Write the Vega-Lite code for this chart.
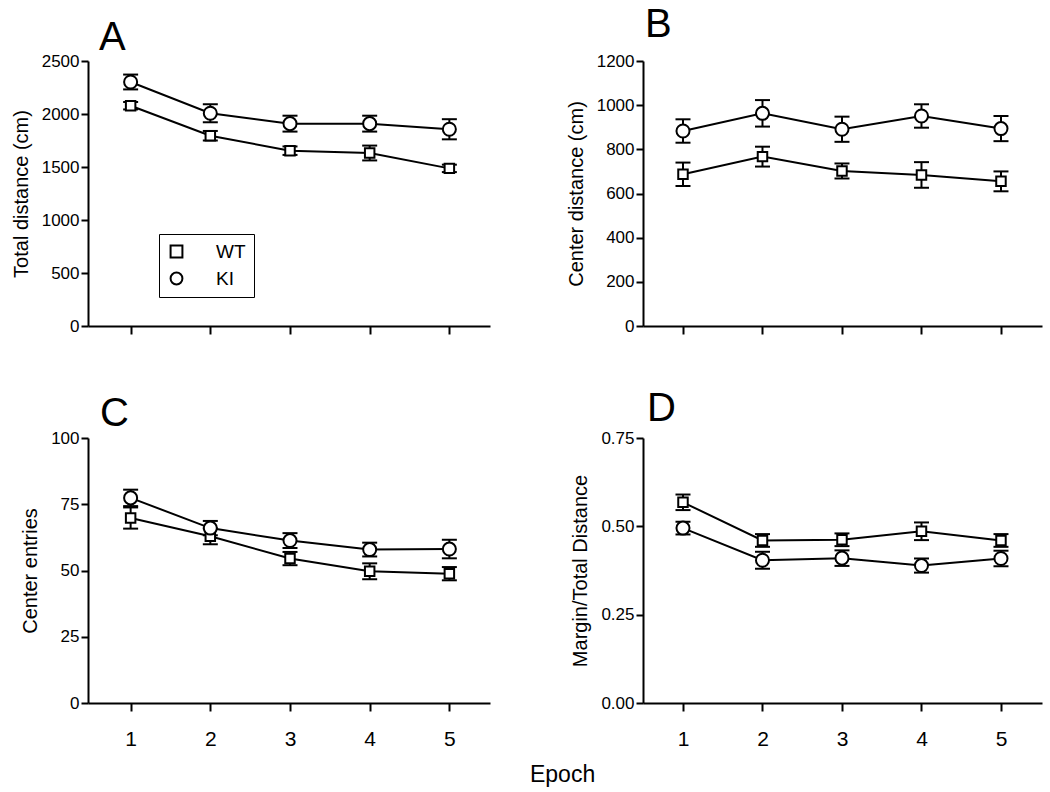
{
  "$schema": "https://vega.github.io/schema/vega-lite/v6.json",
  "padding": {"left": 11, "top": 5, "right": 5, "bottom": 2},
  "background": "white",
  "config": {
    "font": "Liberation Sans",
    "view": {"stroke": null},
    "axis": {
      "domainColor": "black", "domainWidth": 2, "tickColor": "black", "tickWidth": 2,
      "labelColor": "black", "titleColor": "black", "grid": false,
      "labelFontSize": 17, "titleFontSize": 20, "titleFontWeight": "normal",
      "titlePadding": 10
    },
    "axisY": {"tickSize": 7, "labelPadding": 2},
    "axisX": {"tickSize": 8, "labelPadding": 17, "labelFontSize": 21}
  },
  "title": {"text": "Epoch", "orient": "bottom", "anchor": "middle", "fontSize": 23, "fontWeight": "normal", "dx": 36, "offset": 15, "color": "black"},
  "data": {"values": [
    {"panel": "A", "epoch": 1, "group": "WT", "mean": 2078, "sem": 35},
    {"panel": "A", "epoch": 2, "group": "WT", "mean": 1795, "sem": 45},
    {"panel": "A", "epoch": 3, "group": "WT", "mean": 1654, "sem": 40},
    {"panel": "A", "epoch": 4, "group": "WT", "mean": 1632, "sem": 70},
    {"panel": "A", "epoch": 5, "group": "WT", "mean": 1487, "sem": 35},
    {"panel": "A", "epoch": 1, "group": "KI", "mean": 2302, "sem": 70},
    {"panel": "A", "epoch": 2, "group": "KI", "mean": 2007, "sem": 85},
    {"panel": "A", "epoch": 3, "group": "KI", "mean": 1909, "sem": 75},
    {"panel": "A", "epoch": 4, "group": "KI", "mean": 1909, "sem": 75},
    {"panel": "A", "epoch": 5, "group": "KI", "mean": 1856, "sem": 95},
    {"panel": "B", "epoch": 1, "group": "WT", "mean": 687, "sem": 53},
    {"panel": "B", "epoch": 2, "group": "WT", "mean": 767, "sem": 45},
    {"panel": "B", "epoch": 3, "group": "WT", "mean": 702, "sem": 34},
    {"panel": "B", "epoch": 4, "group": "WT", "mean": 684, "sem": 58},
    {"panel": "B", "epoch": 5, "group": "WT", "mean": 655, "sem": 45},
    {"panel": "B", "epoch": 1, "group": "KI", "mean": 883, "sem": 53},
    {"panel": "B", "epoch": 2, "group": "KI", "mean": 963, "sem": 60},
    {"panel": "B", "epoch": 3, "group": "KI", "mean": 891, "sem": 57},
    {"panel": "B", "epoch": 4, "group": "KI", "mean": 951, "sem": 53},
    {"panel": "B", "epoch": 5, "group": "KI", "mean": 894, "sem": 57},
    {"panel": "C", "epoch": 1, "group": "WT", "mean": 69.8, "sem": 4},
    {"panel": "C", "epoch": 2, "group": "WT", "mean": 62.9, "sem": 3},
    {"panel": "C", "epoch": 3, "group": "WT", "mean": 54.5, "sem": 2.5},
    {"panel": "C", "epoch": 4, "group": "WT", "mean": 49.7, "sem": 3},
    {"panel": "C", "epoch": 5, "group": "WT", "mean": 48.8, "sem": 2.5},
    {"panel": "C", "epoch": 1, "group": "KI", "mean": 77.4, "sem": 3.1},
    {"panel": "C", "epoch": 2, "group": "KI", "mean": 66.0, "sem": 2.7},
    {"panel": "C", "epoch": 3, "group": "KI", "mean": 61.3, "sem": 2.8},
    {"panel": "C", "epoch": 4, "group": "KI", "mean": 57.9, "sem": 2.6},
    {"panel": "C", "epoch": 5, "group": "KI", "mean": 58.1, "sem": 3.5},
    {"panel": "D", "epoch": 1, "group": "WT", "mean": 0.568, "sem": 0.022},
    {"panel": "D", "epoch": 2, "group": "WT", "mean": 0.460, "sem": 0.018},
    {"panel": "D", "epoch": 3, "group": "WT", "mean": 0.462, "sem": 0.018},
    {"panel": "D", "epoch": 4, "group": "WT", "mean": 0.486, "sem": 0.025},
    {"panel": "D", "epoch": 5, "group": "WT", "mean": 0.460, "sem": 0.018},
    {"panel": "D", "epoch": 1, "group": "KI", "mean": 0.495, "sem": 0.018},
    {"panel": "D", "epoch": 2, "group": "KI", "mean": 0.404, "sem": 0.024},
    {"panel": "D", "epoch": 3, "group": "KI", "mean": 0.410, "sem": 0.022},
    {"panel": "D", "epoch": 4, "group": "KI", "mean": 0.389, "sem": 0.020},
    {"panel": "D", "epoch": 5, "group": "KI", "mean": 0.409, "sem": 0.022}
  ]},
  "columns": 2,
  "spacing": {"column": 76, "row": 54},
  "resolve": {
    "scale": {"x": "independent", "y": "independent", "shape": "independent"},
    "legend": {"shape": "independent"}
  },
  "concat": [
    {
      "width": 402, "height": 265,
      "title": {"text": "A", "anchor": "start", "frame": "group", "fontSize": 40, "fontWeight": "normal", "baseline": "alphabetic", "dx": 11, "offset": -38, "color": "black"},
      "transform": [{"filter": "datum.panel === 'A'"}],
      "encoding": {
        "x": {"field": "epoch", "type": "quantitative", "scale": {"domain": [0.465, 5.51], "nice": false, "zero": false}, "axis": {"values": [1, 2, 3, 4, 5], "labels": false, "title": null}},
        "y": {"field": "mean", "type": "quantitative", "scale": {"domain": [0, 2500], "nice": false}, "axis": {"values": [0, 500, 1000, 1500, 2000, 2500], "format": "d", "title": "Total distance (cm)"}}
      },
      "layer": [
        {"mark": {"type": "line", "color": "black", "strokeWidth": 2}, "encoding": {"detail": {"field": "group"}}},
        {"mark": {"type": "errorbar", "color": "black", "opacity": 1, "thickness": 2, "rule": {"color": "black", "opacity": 1}, "ticks": {"size": 15, "color": "black", "opacity": 1}}, "encoding": {"yError": {"field": "sem"}}},
        {"mark": {"type": "point", "filled": true, "color": "white", "opacity": 1},
         "encoding": {
           "shape": {"condition": {"test": "datum.group === 'KI'", "value": "circle"}, "value": "square"},
           "size": {"condition": {"test": "datum.group === 'KI'", "value": 170}, "value": 90}
         }},
        {"mark": {"type": "point", "filled": false, "color": "black", "strokeWidth": 2, "opacity": 1},
         "encoding": {
           "shape": {"field": "group", "type": "nominal", "scale": {"domain": ["WT", "KI"], "range": ["square", "circle"]},
             "legend": {"orient": "none", "legendX": 71, "legendY": 173, "title": null, "strokeColor": "black", "padding": 8, "labelFontSize": 19, "labelOffset": 30, "rowPadding": 6, "symbolSize": 140, "symbolStrokeWidth": 2, "symbolStrokeColor": "black", "labelColor": "black"}},
           "size": {"condition": {"test": "datum.group === 'KI'", "value": 170}, "value": 90}
         }}
      ]
    },
    {
      "width": 399, "height": 265,
      "title": {"text": "B", "anchor": "start", "frame": "group", "fontSize": 40, "fontWeight": "normal", "baseline": "alphabetic", "dx": 2, "offset": -25, "color": "black"},
      "transform": [{"filter": "datum.panel === 'B'"}],
      "encoding": {
        "x": {"field": "epoch", "type": "quantitative", "scale": {"domain": [0.497, 5.516], "nice": false, "zero": false}, "axis": {"values": [1, 2, 3, 4, 5], "labels": false, "title": null}},
        "y": {"field": "mean", "type": "quantitative", "scale": {"domain": [0, 1200], "nice": false}, "axis": {"values": [0, 200, 400, 600, 800, 1000, 1200], "format": "d", "title": "Center distance (cm)"}}
      },
      "layer": [
        {"mark": {"type": "line", "color": "black", "strokeWidth": 2}, "encoding": {"detail": {"field": "group"}}},
        {"mark": {"type": "errorbar", "color": "black", "opacity": 1, "thickness": 2, "rule": {"color": "black", "opacity": 1}, "ticks": {"size": 15, "color": "black", "opacity": 1}}, "encoding": {"yError": {"field": "sem"}}},
        {"mark": {"type": "point", "filled": true, "fill": "white", "stroke": "black", "strokeWidth": 2, "opacity": 1},
         "encoding": {
           "shape": {"condition": {"test": "datum.group === 'KI'", "value": "circle"}, "value": "square"},
           "size": {"condition": {"test": "datum.group === 'KI'", "value": 170}, "value": 90}
         }}
      ]
    },
    {
      "width": 402, "height": 265,
      "title": {"text": "C", "anchor": "start", "frame": "group", "fontSize": 40, "fontWeight": "normal", "baseline": "alphabetic", "dx": 12, "offset": -37, "color": "black"},
      "transform": [{"filter": "datum.panel === 'C'"}],
      "encoding": {
        "x": {"field": "epoch", "type": "quantitative", "scale": {"domain": [0.465, 5.51], "nice": false, "zero": false}, "axis": {"values": [1, 2, 3, 4, 5], "format": "d", "title": null}},
        "y": {"field": "mean", "type": "quantitative", "scale": {"domain": [0, 100], "nice": false}, "axis": {"values": [0, 25, 50, 75, 100], "title": "Center entries"}}
      },
      "layer": [
        {"mark": {"type": "line", "color": "black", "strokeWidth": 2}, "encoding": {"detail": {"field": "group"}}},
        {"mark": {"type": "errorbar", "color": "black", "opacity": 1, "thickness": 2, "rule": {"color": "black", "opacity": 1}, "ticks": {"size": 15, "color": "black", "opacity": 1}}, "encoding": {"yError": {"field": "sem"}}},
        {"mark": {"type": "point", "filled": true, "fill": "white", "stroke": "black", "strokeWidth": 2, "opacity": 1},
         "encoding": {
           "shape": {"condition": {"test": "datum.group === 'KI'", "value": "circle"}, "value": "square"},
           "size": {"condition": {"test": "datum.group === 'KI'", "value": 170}, "value": 90}
         }}
      ]
    },
    {
      "width": 399, "height": 265,
      "title": {"text": "D", "anchor": "start", "frame": "group", "fontSize": 40, "fontWeight": "normal", "baseline": "alphabetic", "dx": 4, "offset": -32, "color": "black"},
      "transform": [{"filter": "datum.panel === 'D'"}],
      "encoding": {
        "x": {"field": "epoch", "type": "quantitative", "scale": {"domain": [0.497, 5.516], "nice": false, "zero": false}, "axis": {"values": [1, 2, 3, 4, 5], "format": "d", "title": null}},
        "y": {"field": "mean", "type": "quantitative", "scale": {"domain": [0, 0.75], "nice": false}, "axis": {"values": [0, 0.25, 0.5, 0.75], "format": ".2f", "title": "Margin/Total Distance"}}
      },
      "layer": [
        {"mark": {"type": "line", "color": "black", "strokeWidth": 2}, "encoding": {"detail": {"field": "group"}}},
        {"mark": {"type": "errorbar", "color": "black", "opacity": 1, "thickness": 2, "rule": {"color": "black", "opacity": 1}, "ticks": {"size": 15, "color": "black", "opacity": 1}}, "encoding": {"yError": {"field": "sem"}}},
        {"mark": {"type": "point", "filled": true, "fill": "white", "stroke": "black", "strokeWidth": 2, "opacity": 1},
         "encoding": {
           "shape": {"condition": {"test": "datum.group === 'KI'", "value": "circle"}, "value": "square"},
           "size": {"condition": {"test": "datum.group === 'KI'", "value": 170}, "value": 90}
         }}
      ]
    }
  ]
}
